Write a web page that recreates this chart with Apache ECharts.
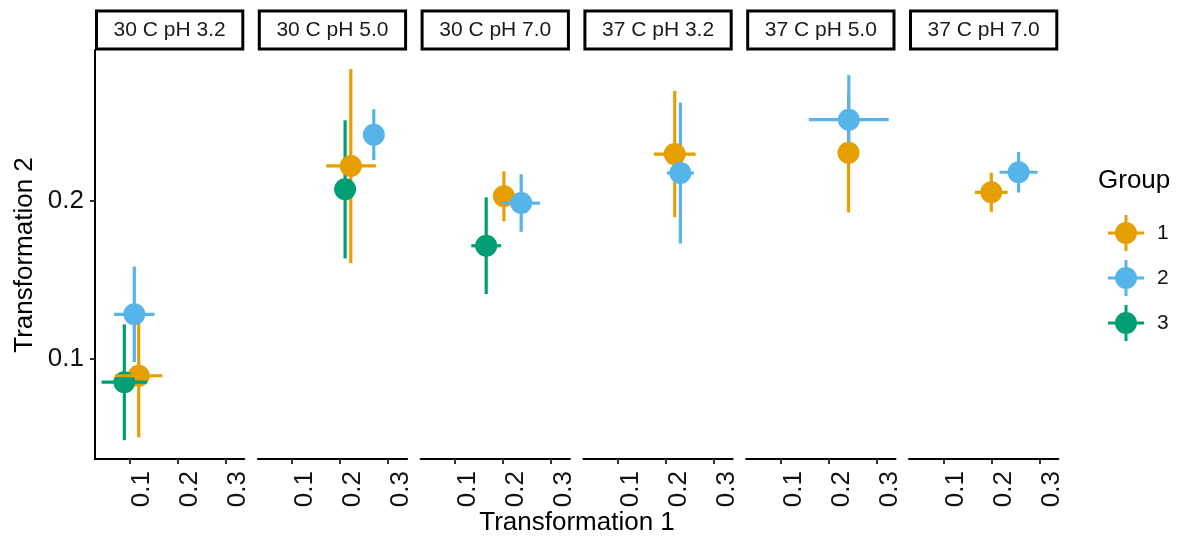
<!DOCTYPE html>
<html>
<head>
<meta charset="utf-8">
<script src="https://cdn.jsdelivr.net/npm/echarts@6/dist/echarts.min.js"></script>
<style>
  html, body { margin: 0; padding: 0; background: #fff; }
  #chart { width: 1177px; height: 538px; }
</style>
</head>
<body>
<div id="chart"></div>
<script>
// Facet strips, one panel per temperature / pH condition
const facetLabels = ['30 C pH 3.2', '30 C pH 5.0', '30 C pH 7.0', '37 C pH 3.2', '37 C pH 5.0', '37 C pH 7.0'];
const groupNames = ['1', '2', '3'];

// One row per facet: [x, xmin, xmax, y, ymin, ymax]; null where the group has no value
const group1 = [
  [0.1196, 0.0702, 0.1688, 0.0894, 0.0504, 0.1284],
  [0.2223, 0.1708, 0.2744, 0.2222, 0.1606, 0.2835],
  [0.2021, 0.1900, 0.2140, 0.2030, 0.1872, 0.2188],
  [0.2188, 0.1753, 0.2623, 0.2297, 0.1897, 0.2697],
  [0.2417, 0.2280, 0.2550, 0.2306, 0.1928, 0.2684],
  [0.2000, 0.1660, 0.2340, 0.2055, 0.1932, 0.2179]
];
const group2 = [
  [0.1104, 0.0684, 0.1524, 0.1283, 0.0981, 0.1585],
  [0.2702, 0.2582, 0.2822, 0.2420, 0.2259, 0.2581],
  [0.2381, 0.1991, 0.2771, 0.1987, 0.1805, 0.2169],
  [0.2306, 0.2026, 0.2586, 0.2177, 0.1731, 0.2623],
  [0.2423, 0.1590, 0.3256, 0.2515, 0.2233, 0.2797],
  [0.2569, 0.2173, 0.2965, 0.2182, 0.2054, 0.2310]
];
const group3 = [
  [0.0896, 0.0421, 0.1371, 0.0853, 0.0486, 0.1220],
  [0.2104, 0.1984, 0.2224, 0.2074, 0.1637, 0.2511],
  [0.1652, 0.1342, 0.1962, 0.1717, 0.1411, 0.2023],
  null, null, null
];
const groupData = [group1, group2, group3];

// Axis ticks and ranges
const xTickValues = [0.1, 0.2, 0.3];
const yTickValues = [0.1, 0.2];
const xRange = [0.0285, 0.3396];
const yRange = [0.0367, 0.2956];

const xTitle = 'Transformation 1';
const yTitle = 'Transformation 2';
const legendTitle = 'Group';

// Styling
const groupColors = ['#E69F00', '#56B4E9', '#009E73'];
const FONT = '"Liberation Sans", Arial, Helvetica, sans-serif';
const PANEL_LEFT = 95, PANEL_STEP = 162.8, PANEL_W = 149.3;
const PANEL_TOP = 50, PANEL_H = 409;
const BAR_W = 3.2, POINT_SIZE = 22;

const chart = echarts.init(document.getElementById('chart'), null, { renderer: 'canvas' });

const grids = [], xAxes = [], yAxes = [], series = [], graphics = [];

facetLabels.forEach((label, i) => {
  const left = PANEL_LEFT + i * PANEL_STEP;
  grids.push({ left: left, top: PANEL_TOP, width: PANEL_W, height: PANEL_H, containLabel: false, outerBoundsMode: 'none' });
  xAxes.push({
    type: 'value', gridIndex: i, min: xRange[0], max: xRange[1],
    splitLine: { show: false },
    axisLine: { show: true, onZero: false, lineStyle: { color: '#000', width: 2 } },
    axisTick: { show: true, length: 5, customValues: xTickValues, lineStyle: { color: '#333', width: 2 } },
    axisLabel: {
      show: true, customValues: xTickValues, rotate: 90, margin: 12,
      align: 'right', verticalAlign: 'top',
      formatter: v => v.toFixed(1),
      color: '#111', fontSize: 26, fontFamily: FONT
    }
  });
  yAxes.push({
    type: 'value', gridIndex: i, min: yRange[0], max: yRange[1],
    splitLine: { show: false },
    axisLine: { show: i === 0, onZero: false, lineStyle: { color: '#000', width: 2 } },
    axisTick: { show: i === 0, length: 5, customValues: yTickValues, lineStyle: { color: '#333', width: 2 } },
    axisLabel: {
      show: i === 0, customValues: yTickValues, margin: 11,
      formatter: v => v.toFixed(1),
      color: '#111', fontSize: 26, fontFamily: FONT
    }
  });

  // strip header
  graphics.push({
    type: 'rect', silent: true,
    shape: { x: left + 1.5, y: 11, width: PANEL_W - 3, height: 38 },
    style: { fill: '#fff', stroke: '#000', lineWidth: 3 }
  });
  graphics.push({
    type: 'text', silent: true, x: left + PANEL_W / 2, y: 30.5,
    style: { text: label, fill: '#1a1a1a', font: '21px ' + FONT, textAlign: 'center', textVerticalAlign: 'middle' }
  });
});

// points first so the legend picks up the point series style
groupData.forEach((rows, g) => {
  rows.forEach((r, i) => {
    if (!r) return;
    series.push({
      type: 'scatter', name: groupNames[g], xAxisIndex: i, yAxisIndex: i, z: 3,
      symbol: 'circle', symbolSize: POINT_SIZE, silent: true,
      itemStyle: { color: groupColors[g], opacity: 1 },
      data: [[r[0], r[3]]]
    });
  });
});

function vBar(color) {
  return function (params, api) {
    const a = api.coord([api.value(0), api.value(1)]);
    const b = api.coord([api.value(0), api.value(2)]);
    return { type: 'line', shape: { x1: a[0], y1: a[1], x2: b[0], y2: b[1] }, style: { stroke: color, lineWidth: BAR_W } };
  };
}
function hBar(color) {
  return function (params, api) {
    const a = api.coord([api.value(0), api.value(2)]);
    const b = api.coord([api.value(1), api.value(2)]);
    return { type: 'line', shape: { x1: a[0], y1: a[1], x2: b[0], y2: b[1] }, style: { stroke: color, lineWidth: BAR_W } };
  };
}

groupData.forEach((rows, g) => {
  rows.forEach((r, i) => {
    if (!r) return;
    // vertical error bar sits under the points
    series.push({
      type: 'custom', name: groupNames[g], xAxisIndex: i, yAxisIndex: i, z: 2, silent: true, clip: false,
      itemStyle: { color: groupColors[g] },
      renderItem: vBar(groupColors[g]),
      encode: { x: 0, y: [1, 2] },
      data: [[r[0], r[4], r[5]]]
    });
    // horizontal error bar is drawn over the points
    series.push({
      type: 'custom', name: groupNames[g], xAxisIndex: i, yAxisIndex: i, z: 4, silent: true, clip: false,
      itemStyle: { color: groupColors[g] },
      renderItem: hBar(groupColors[g]),
      encode: { x: [0, 1], y: 2 },
      data: [[r[1], r[2], r[3]]]
    });
  });
});

// axis titles and legend title
graphics.push({
  type: 'text', silent: true, x: 577, y: 523,
  style: { text: xTitle, fill: '#000', font: '26px ' + FONT, textAlign: 'center', textVerticalAlign: 'middle' }
});
graphics.push({
  type: 'text', silent: true, x: 25, y: 255, rotation: Math.PI / 2,
  style: { text: yTitle, fill: '#000', font: '26px ' + FONT, textAlign: 'center', textVerticalAlign: 'middle' }
});
graphics.push({
  type: 'text', silent: true, x: 1098, y: 181,
  style: { text: legendTitle, fill: '#000', font: '26px ' + FONT, textAlign: 'left', textVerticalAlign: 'middle' }
});

const LEGEND_ICON = 'path://M0,16.5H36V19.5H0Z M16.5,0H19.5V36H16.5Z M7,18A11,11 0 1,1 29,18A11,11 0 1,1 7,18Z';

chart.setOption({
  animation: false,
  backgroundColor: '#fff',
  grid: grids,
  xAxis: xAxes,
  yAxis: yAxes,
  legend: {
    orient: 'vertical', left: 1103, top: 210,
    itemWidth: 36, itemHeight: 36, itemGap: 9,
    selectedMode: false,
    itemStyle: { borderWidth: 0 },
    data: groupNames.map(n => ({ name: n, icon: LEGEND_ICON })),
    textStyle: { fontSize: 21, color: '#111', fontFamily: FONT, padding: [0, 0, 0, 8] }
  },
  graphic: graphics,
  series: series
});
</script>
</body>
</html>
